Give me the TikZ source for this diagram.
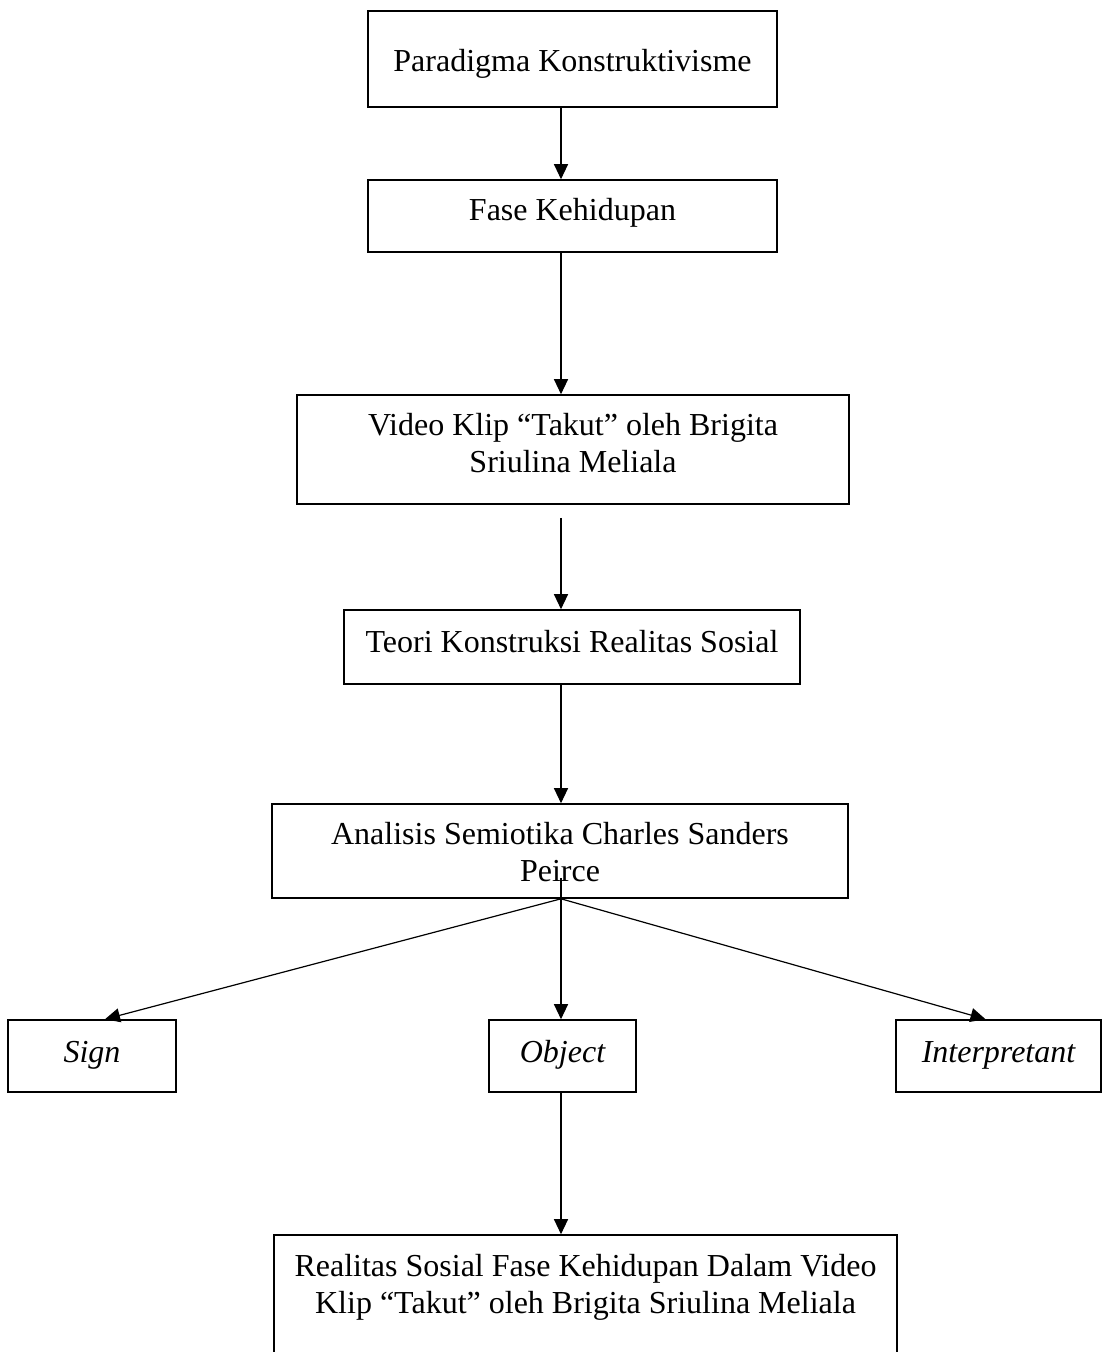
\documentclass[tikz,border=0pt]{standalone}
\usepackage{fontspec}
\setmainfont{Liberation Serif}
\usetikzlibrary{arrows.meta}
\begin{document}
\begin{tikzpicture}[x=1pt,y=-1pt,
  box/.style={draw,line width=1.6pt,rectangle,inner sep=0pt},
  txt/.style={anchor=base,inner sep=0pt,font=\fontsize{32}{37}\selectfont},
  itxt/.style={txt,font=\fontsize{32}{37}\selectfont\itshape},
  arr/.style={line width=1.2pt,-{Triangle[length=15pt,width=14pt]}},
  ln/.style={line width=1.2pt}]
\clip (0,0) rectangle (1103,1352);
\fill[white] (0,0) rectangle (1103,1352);
\coordinate (axis) at (561,0);
% boxes
\node[box,minimum width=409,minimum height=96] (p) at (572.5,59) {};
\node[box,minimum width=409,minimum height=72] (f) at (572.5,216) {};
\node[box,minimum width=552,minimum height=109] (v) at (573,449.5) {};
\node[box,minimum width=456,minimum height=74] (t) at (572,647) {};
\node[box,minimum width=576,minimum height=94] (a) at (560,851) {};
\node[box,minimum width=168,minimum height=72] (s) at (92,1056) {};
\node[box,minimum width=147,minimum height=72] (o) at (562.5,1056) {};
\node[box,minimum width=205,minimum height=72] (i) at (998.5,1056) {};
\node[box,minimum width=623,minimum height=125] (r) at (585.5,1297.5) {};
% texts
\node[txt] (pt) at (572.5,71) {Paradigma Konstruktivisme};
\node[txt] (ft) at (572.5,220) {Fase Kehidupan};
\node[txt] (vt1) at (573,435) {Video Klip “Takut” oleh Brigita};
\node[txt] (vt2) at (573,472) {Sriulina Meliala};
\node[txt] (tt) at (572,652) {Teori Konstruksi Realitas Sosial};
\node[txt] (at1) at (560,844) {Analisis Semiotika Charles Sanders};
\node[txt] (at2) at (560,881) {Peirce};
\node[itxt] (st) at (92,1062) {Sign};
\node[itxt] (ot) at (562.5,1062) {Object};
\node[itxt] (it) at (998.5,1062) {Interpretant};
\node[txt] (rt1) at (585.5,1276) {Realitas Sosial Fase Kehidupan Dalam Video};
\node[txt] (rt2) at (585.5,1313) {Klip “Takut” oleh Brigita Sriulina Meliala};
% connectors
\draw[arr] (p.south -| axis) -- (f.north -| axis);
\draw[arr] (f.south -| axis) -- (v.north -| axis);
\coordinate (vs) at ([yshift=-13pt]v.south -| axis);
\draw[arr] (vs) -- (t.north -| axis);
\draw[arr] (t.south -| axis) -- (a.north -| axis);
\coordinate (fork) at (a.south -| axis);
\coordinate (ftop) at ([yshift=21pt]a.south -| axis);
\draw[arr] (ftop) -- (o.north -| axis);
\draw[arr] (fork) -- ([xshift=13pt]s.north);
\draw[arr] (fork) -- ([xshift=-13pt]i.north);
\draw[arr] (o.south -| axis) -- (r.north -| axis);
\end{tikzpicture}
\end{document}
